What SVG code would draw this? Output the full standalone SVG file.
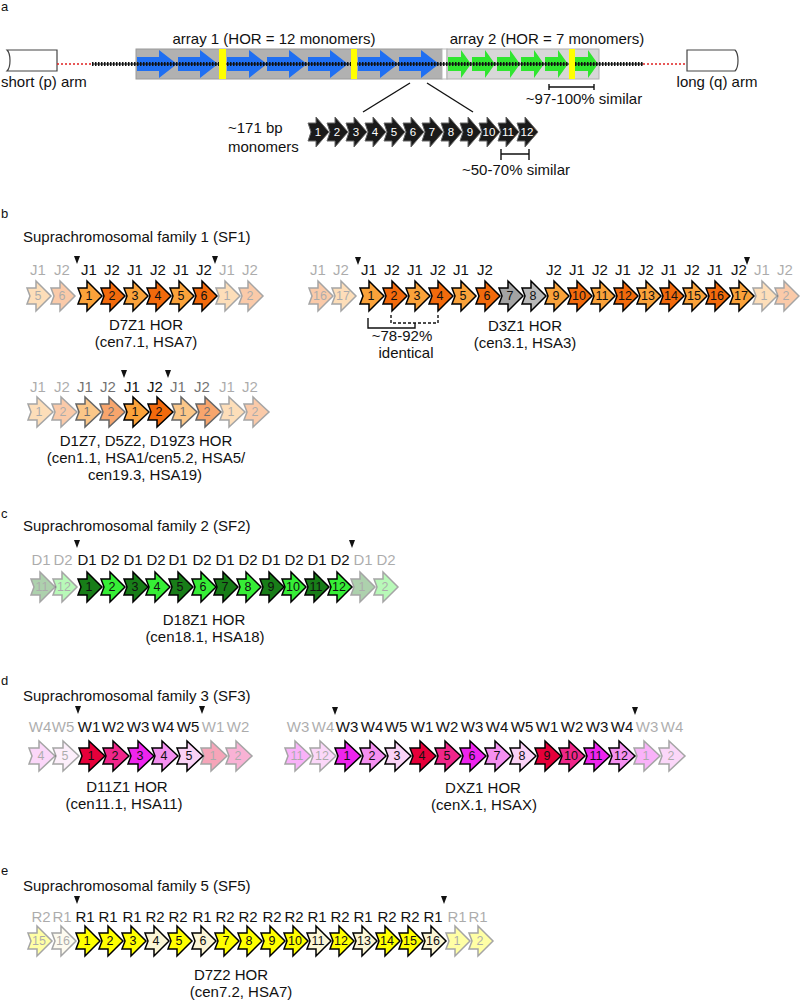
<svg xmlns="http://www.w3.org/2000/svg" width="800" height="1003" viewBox="0 0 800 1003">
<style>
text{font-family:"Liberation Sans",Arial,sans-serif;fill:#111}
.t{font-size:15px}
.c{font-size:15px;text-anchor:middle}
.pl{font-size:13px}
.l{font-size:15px;text-anchor:middle}
.n{font-size:12.5px;text-anchor:middle}
.w{font-size:11.5px;text-anchor:middle;fill:#fff}
.ar{stroke:#000;stroke-width:1.5;stroke-linejoin:miter}
.mk{fill:#1a1a1a;stroke:#666;stroke-width:1}
.gh{opacity:.35}
.gm{opacity:.6}
.o1{fill:#faa23a}.o2{fill:#f26a0c}.g7{fill:#a3a3a3}.g8{fill:#b8b8b8}
.dg{fill:#187d18}.lg{fill:#36ee36}
.r1{fill:#e6003a}.r2{fill:#f0268a}.r3{fill:#ee24ee}.r4{fill:#f48ff0}.r5{fill:#fad2f6}
.y{fill:#ffff00}.cr{fill:#fbf6d6}
.tri{fill:#111}
.arm{fill:#fff;stroke:#444;stroke-width:1.2}
.ln{stroke:#111;stroke-width:1.4;fill:none}
.yb{fill:#ffff00}
</style>
<defs>
<path id="a23" d="M0,-8H9V-15L24,0L9,15V8H0L3,0Z"/>
<path id="a24" d="M0,-8H9V-15L25,0L9,15V8H0L3,0Z"/>
<path id="a25" d="M0,-8H10V-15L26,0L10,15V8H0L3,0Z"/>
<path id="m19" d="M0,-9H8V-15L21,0L8,15V9H0L3,0Z"/>
<path id="ba" d="M0,-7H22V-14L40,0L22,14V7H0Z" fill="#1f6ff2"/>
<path id="ga" d="M0,-7H13V-14L23,0L13,14V7H0Z" fill="#2fe62f"/>
<path id="tri" d="M-3,0H3L0,8Z"/>
</defs>

<!-- panel letters and titles -->
<g id="labels">
<text class="pl" x="1" y="11">a</text>
<text class="pl" x="1" y="218">b</text>
<text class="pl" x="1" y="518">c</text>
<text class="pl" x="1" y="685">d</text>
<text class="pl" x="1" y="875">e</text>
<text class="t" x="23" y="242">Suprachromosomal family 1 (SF1)</text>
<text class="t" x="23" y="531">Suprachromosomal family 2 (SF2)</text>
<text class="t" x="23" y="701">Suprachromosomal family 3 (SF3)</text>
<text class="t" x="23" y="891">Suprachromosomal family 5 (SF5)</text>
</g>

<!-- panel a -->
<g id="p-arm">
<path class="arm" d="M57,50H7C11,54 11,67 7,71H57Z"/>
<text class="t" x="1" y="87">short (p) arm</text>
</g>
<g id="q-arm">
<path class="arm" d="M687,50H735C739,54 739,67 735,71H687Z"/>
<text class="c" x="717" y="87">long (q) arm</text>
</g>
<g id="array1">
<rect x="136" y="49" width="306" height="30" fill="#b1b1b1" stroke="#9a9a9a"/>
<use href="#ba" x="137" y="64"/><use href="#ba" x="178" y="64"/><use href="#ba" x="227" y="64"/>
<use href="#ba" x="267" y="64"/><use href="#ba" x="308" y="64"/><use href="#ba" x="358" y="64"/><use href="#ba" x="399" y="64"/>
<text class="c" x="274" y="44">array 1 (HOR = 12 monomers)</text>
</g>
<rect x="442" y="49" width="5" height="30" fill="#fff" stroke="#bbb"/>
<g id="array2">
<rect x="447" y="49" width="152" height="30" fill="#d7d7d7" stroke="#b0b0b0"/>
<use href="#ga" x="448" y="64"/><use href="#ga" x="472" y="64"/><use href="#ga" x="497" y="64"/>
<use href="#ga" x="521" y="64"/><use href="#ga" x="545" y="64"/><use href="#ga" x="575" y="64"/>
<text class="c" x="547" y="44">array 2 (HOR = 7 monomers)</text>
</g>
<g id="chromatin">
<line x1="57" y1="64" x2="92" y2="64" stroke="#e02020" stroke-width="1.5" stroke-dasharray="2 2"/>
<line x1="643" y1="64" x2="687" y2="64" stroke="#e02020" stroke-width="1.5" stroke-dasharray="2 2"/>
<line x1="92" y1="64" x2="643" y2="64" stroke="#111" stroke-width="1.2"/>
<line x1="92" y1="64" x2="643" y2="64" stroke="#111" stroke-width="4" stroke-dasharray="1.5 1.5"/>
</g>
<g id="hor-boundaries">
<rect class="yb" x="219" y="49" width="7" height="30"/>
<rect class="yb" x="351" y="49" width="6" height="30"/>
<rect class="yb" x="569" y="49" width="6" height="30"/>
</g>
<g id="monomers">
<text class="t" x="228" y="133">~171 bp</text>
<text class="t" x="228" y="152">monomers</text>
<use href="#m19" class="mk" x="308" y="132"/><text class="w" x="318" y="136">1</text>
<use href="#m19" class="mk" x="327" y="132"/><text class="w" x="337" y="136">2</text>
<use href="#m19" class="mk" x="346" y="132"/><text class="w" x="356" y="136">3</text>
<use href="#m19" class="mk" x="365" y="132"/><text class="w" x="375" y="136">4</text>
<use href="#m19" class="mk" x="384" y="132"/><text class="w" x="394" y="136">5</text>
<use href="#m19" class="mk" x="403" y="132"/><text class="w" x="413" y="136">6</text>
<use href="#m19" class="mk" x="422" y="132"/><text class="w" x="432" y="136">7</text>
<use href="#m19" class="mk" x="441" y="132"/><text class="w" x="451" y="136">8</text>
<use href="#m19" class="mk" x="460" y="132"/><text class="w" x="470" y="136">9</text>
<use href="#m19" class="mk" x="479" y="132"/><text class="w" x="489" y="136">10</text>
<use href="#m19" class="mk" x="498" y="132"/><text class="w" x="508" y="136">11</text>
<use href="#m19" class="mk" x="517" y="132"/><text class="w" x="527" y="136">12</text>
</g>

<g id="connectors">
<line class="ln" x1="410" y1="83" x2="363" y2="112"/>
<line class="ln" x1="427" y1="83" x2="473" y2="112"/>
<path class="ln" d="M549,84V90M549,87H594M594,84V90"/>
<path class="ln" d="M501,149V160M501,154H529M529,149V160"/>
<path class="ln" stroke-width="1.1" d="M368,318V328H415V323"/>
<path class="ln" stroke-width="1.1" stroke-dasharray="3 2" d="M391,315V323H438V315"/>
</g>
<g id="annotations">
<text class="c" x="584" y="104">~97-100% similar</text>
<text class="c" x="516" y="175">~50-70% similar</text>
<text class="c" x="402" y="341">~78-92%</text>
<text class="c" x="406" y="358">identical</text>
</g>

<!-- D7Z1 -->
<g id="d7z1">
<g class="gh"><use href="#a23" x="27" y="296" class="ar o1"/><text class="n" x="38" y="300">5</text><text class="l" x="38" y="275">J1</text></g>
<g class="gh"><use href="#a23" x="51" y="296" class="ar o2"/><text class="n" x="62" y="300">6</text><text class="l" x="62" y="275">J2</text></g>
<g><use href="#a23" x="78" y="296" class="ar o1"/><text class="n" x="89" y="300">1</text><text class="l" x="89" y="275">J1</text></g>
<g><use href="#a23" x="101" y="296" class="ar o2"/><text class="n" x="112" y="300">2</text><text class="l" x="112" y="275">J2</text></g>
<g><use href="#a23" x="124" y="296" class="ar o1"/><text class="n" x="135" y="300">3</text><text class="l" x="135" y="275">J1</text></g>
<g><use href="#a23" x="147" y="296" class="ar o2"/><text class="n" x="158" y="300">4</text><text class="l" x="158" y="275">J2</text></g>
<g><use href="#a23" x="170" y="296" class="ar o1"/><text class="n" x="181" y="300">5</text><text class="l" x="181" y="275">J1</text></g>
<g><use href="#a23" x="193" y="296" class="ar o2"/><text class="n" x="204" y="300">6</text><text class="l" x="204" y="275">J2</text></g>
<g class="gh"><use href="#a23" x="216" y="296" class="ar o1"/><text class="n" x="227" y="300">1</text><text class="l" x="227" y="275">J1</text></g>
<g class="gh"><use href="#a23" x="239" y="296" class="ar o2"/><text class="n" x="250" y="300">2</text><text class="l" x="250" y="275">J2</text></g>
<use href="#tri" class="tri" x="77" y="256"/><use href="#tri" class="tri" x="215" y="256"/>
<text class="c" x="146" y="330">D7Z1 HOR</text>
<text class="c" x="146" y="347">(cen7.1, HSA7)</text>
</g>

<!-- D3Z1 -->
<g id="d3z1">
<g class="gh"><use href="#a23" x="309" y="296" class="ar o2"/><text class="n" x="320" y="300">16</text><text class="l" x="318" y="275">J1</text></g>
<g class="gh"><use href="#a23" x="332" y="296" class="ar o1"/><text class="n" x="343" y="300">17</text><text class="l" x="341" y="275">J2</text></g>
<g><use href="#a23" x="360" y="296" class="ar o1"/><text class="n" x="371" y="300">1</text><text class="l" x="369" y="275">J1</text></g>
<g><use href="#a23" x="383" y="296" class="ar o2"/><text class="n" x="394" y="300">2</text><text class="l" x="392" y="275">J2</text></g>
<g><use href="#a23" x="406" y="296" class="ar o1"/><text class="n" x="417" y="300">3</text><text class="l" x="415" y="275">J1</text></g>
<g><use href="#a23" x="429" y="296" class="ar o2"/><text class="n" x="440" y="300">4</text><text class="l" x="438" y="275">J2</text></g>
<g><use href="#a23" x="452" y="296" class="ar o1"/><text class="n" x="463" y="300">5</text><text class="l" x="461" y="275">J1</text></g>
<g><use href="#a23" x="476" y="296" class="ar o2"/><text class="n" x="487" y="300">6</text><text class="l" x="485" y="275">J2</text></g>
<g><use href="#a23" x="499" y="296" class="ar g7"/><text class="n" x="510" y="300">7</text></g>
<g><use href="#a23" x="522" y="296" class="ar g8"/><text class="n" x="533" y="300">8</text></g>
<g><use href="#a23" x="545" y="296" class="ar o1"/><text class="n" x="556" y="300">9</text><text class="l" x="554" y="275">J2</text></g>
<g><use href="#a23" x="568" y="296" class="ar o2"/><text class="n" x="579" y="300">10</text><text class="l" x="577" y="275">J1</text></g>
<g><use href="#a23" x="591" y="296" class="ar o1"/><text class="n" x="602" y="300">11</text><text class="l" x="600" y="275">J2</text></g>
<g><use href="#a23" x="614" y="296" class="ar o2"/><text class="n" x="625" y="300">12</text><text class="l" x="623" y="275">J1</text></g>
<g><use href="#a23" x="637" y="296" class="ar o1"/><text class="n" x="648" y="300">13</text><text class="l" x="646" y="275">J2</text></g>
<g><use href="#a23" x="660" y="296" class="ar o2"/><text class="n" x="671" y="300">14</text><text class="l" x="669" y="275">J1</text></g>
<g><use href="#a23" x="683" y="296" class="ar o1"/><text class="n" x="694" y="300">15</text><text class="l" x="692" y="275">J2</text></g>
<g><use href="#a23" x="706" y="296" class="ar o2"/><text class="n" x="717" y="300">16</text><text class="l" x="715" y="275">J1</text></g>
<g><use href="#a23" x="730" y="296" class="ar o1"/><text class="n" x="741" y="300">17</text><text class="l" x="739" y="275">J2</text></g>
<g class="gh"><use href="#a23" x="753" y="296" class="ar o1"/><text class="n" x="764" y="300">1</text><text class="l" x="762" y="275">J1</text></g>
<g class="gh"><use href="#a23" x="775" y="296" class="ar o2"/><text class="n" x="786" y="300">2</text><text class="l" x="785" y="275">J2</text></g>
<use href="#tri" class="tri" x="358" y="257"/><use href="#tri" class="tri" x="747" y="257"/>
<text class="c" x="525" y="331">D3Z1 HOR</text>
<text class="c" x="525" y="348">(cen3.1, HSA3)</text>
</g>

<!-- D1Z7 -->
<g id="d1z7">
<g class="gh"><use href="#a24" x="28" y="412" class="ar o1"/><text class="n" x="39" y="416">1</text><text class="l" x="38" y="392">J1</text></g>
<g class="gh"><use href="#a24" x="52" y="412" class="ar o2"/><text class="n" x="63" y="416">2</text><text class="l" x="62" y="392">J2</text></g>
<g class="gm"><use href="#a24" x="76" y="412" class="ar o1"/><text class="n" x="87" y="416">1</text><text class="l" x="85" y="392">J1</text></g>
<g class="gm"><use href="#a24" x="100" y="412" class="ar o2"/><text class="n" x="111" y="416">2</text><text class="l" x="108" y="392">J2</text></g>
<g><use href="#a24" x="124" y="412" class="ar o1"/><text class="n" x="135" y="416">1</text><text class="l" x="132" y="392">J1</text></g>
<g><use href="#a24" x="148" y="412" class="ar o2"/><text class="n" x="159" y="416">2</text><text class="l" x="155" y="392">J2</text></g>
<g class="gm"><use href="#a24" x="172" y="412" class="ar o1"/><text class="n" x="183" y="416">1</text><text class="l" x="178" y="392">J1</text></g>
<g class="gm"><use href="#a24" x="196" y="412" class="ar o2"/><text class="n" x="207" y="416">2</text><text class="l" x="202" y="392">J2</text></g>
<g class="gh"><use href="#a24" x="220" y="412" class="ar o1"/><text class="n" x="231" y="416">1</text><text class="l" x="227" y="392">J1</text></g>
<g class="gh"><use href="#a24" x="244" y="412" class="ar o2"/><text class="n" x="255" y="416">2</text><text class="l" x="250" y="392">J2</text></g>
<use href="#tri" class="tri" x="124" y="370"/><use href="#tri" class="tri" x="168" y="370"/>
<text class="c" x="146" y="446">D1Z7, D5Z2, D19Z3 HOR</text>
<text class="c" x="146" y="463">(cen1.1, HSA1/cen5.2, HSA5/</text>
<text class="c" x="145" y="480">cen19.3, HSA19)</text>
</g>

<!-- D18Z1 -->
<g id="d18z1">
<g class="gh"><use href="#a23" x="31" y="587" class="ar dg"/><text class="n" x="42" y="591">11</text><text class="l" x="41" y="565">D1</text></g>
<g class="gh"><use href="#a23" x="53" y="587" class="ar lg"/><text class="n" x="64" y="591">12</text><text class="l" x="63" y="565">D2</text></g>
<g><use href="#a23" x="78" y="587" class="ar dg"/><text class="n" x="89" y="591">1</text><text class="l" x="87" y="565">D1</text></g>
<g><use href="#a23" x="101" y="587" class="ar lg"/><text class="n" x="112" y="591">2</text><text class="l" x="110" y="565">D2</text></g>
<g><use href="#a23" x="124" y="587" class="ar dg"/><text class="n" x="135" y="591">3</text><text class="l" x="133" y="565">D1</text></g>
<g><use href="#a23" x="146" y="587" class="ar lg"/><text class="n" x="157" y="591">4</text><text class="l" x="156" y="565">D2</text></g>
<g><use href="#a23" x="169" y="587" class="ar dg"/><text class="n" x="180" y="591">5</text><text class="l" x="178" y="565">D1</text></g>
<g><use href="#a23" x="192" y="587" class="ar lg"/><text class="n" x="203" y="591">6</text><text class="l" x="202" y="565">D2</text></g>
<g><use href="#a23" x="214" y="587" class="ar dg"/><text class="n" x="225" y="591">7</text><text class="l" x="225" y="565">D1</text></g>
<g><use href="#a23" x="237" y="587" class="ar lg"/><text class="n" x="248" y="591">8</text><text class="l" x="248" y="565">D2</text></g>
<g><use href="#a23" x="260" y="587" class="ar dg"/><text class="n" x="271" y="591">9</text><text class="l" x="271" y="565">D1</text></g>
<g><use href="#a23" x="282" y="587" class="ar lg"/><text class="n" x="293" y="591">10</text><text class="l" x="294" y="565">D2</text></g>
<g><use href="#a23" x="305" y="587" class="ar dg"/><text class="n" x="316" y="591">11</text><text class="l" x="317" y="565">D1</text></g>
<g><use href="#a23" x="328" y="587" class="ar lg"/><text class="n" x="339" y="591">12</text><text class="l" x="340" y="565">D2</text></g>
<g class="gh"><use href="#a23" x="351" y="587" class="ar dg"/><text class="n" x="362" y="591">1</text><text class="l" x="363" y="565">D1</text></g>
<g class="gh"><use href="#a23" x="374" y="587" class="ar lg"/><text class="n" x="385" y="591">2</text><text class="l" x="386" y="565">D2</text></g>
<use href="#tri" class="tri" x="77" y="540"/><use href="#tri" class="tri" x="352" y="540"/>
<text class="c" x="204" y="625">D18Z1 HOR</text>
<text class="c" x="205" y="642">(cen18.1, HSA18)</text>
</g>

<!-- D11Z1 -->
<g id="d11z1">
<g class="gh"><use href="#a25" x="29" y="756" class="ar r4"/><text class="n" x="41" y="760">4</text><text class="l" x="40" y="732">W4</text></g>
<g class="gh"><use href="#a25" x="53" y="756" class="ar r5"/><text class="n" x="65" y="760">5</text><text class="l" x="63" y="732">W5</text></g>
<g><use href="#a25" x="79" y="756" class="ar r1"/><text class="n" x="91" y="760">1</text><text class="l" x="89" y="732">W1</text></g>
<g><use href="#a25" x="103" y="756" class="ar r2"/><text class="n" x="115" y="760">2</text><text class="l" x="113" y="732">W2</text></g>
<g><use href="#a25" x="128" y="756" class="ar r3"/><text class="n" x="140" y="760">3</text><text class="l" x="138" y="732">W3</text></g>
<g><use href="#a25" x="152" y="756" class="ar r4"/><text class="n" x="164" y="760">4</text><text class="l" x="163" y="732">W4</text></g>
<g><use href="#a25" x="177" y="756" class="ar r5"/><text class="n" x="189" y="760">5</text><text class="l" x="188" y="732">W5</text></g>
<g class="gh"><use href="#a25" x="201" y="756" class="ar r1"/><text class="n" x="213" y="760">1</text><text class="l" x="213" y="732">W1</text></g>
<g class="gh"><use href="#a25" x="226" y="756" class="ar r2"/><text class="n" x="238" y="760">2</text><text class="l" x="238" y="732">W2</text></g>
<use href="#tri" class="tri" x="78" y="706"/><use href="#tri" class="tri" x="202" y="706"/>
<text class="c" x="127" y="792">D11Z1 HOR</text>
<text class="c" x="124" y="809">(cen11.1, HSA11)</text>
</g>

<!-- DXZ1 -->
<g id="dxz1">
<g class="gh"><use href="#a25" x="285" y="756" class="ar r3"/><text class="n" x="297" y="760">11</text><text class="l" x="298" y="732">W3</text></g>
<g class="gh"><use href="#a25" x="310" y="756" class="ar r4"/><text class="n" x="322" y="760">12</text><text class="l" x="323" y="732">W4</text></g>
<g><use href="#a25" x="335" y="756" class="ar r3"/><text class="n" x="347" y="760">1</text><text class="l" x="347" y="732">W3</text></g>
<g><use href="#a25" x="360" y="756" class="ar r4"/><text class="n" x="372" y="760">2</text><text class="l" x="372" y="732">W4</text></g>
<g><use href="#a25" x="385" y="756" class="ar r5"/><text class="n" x="397" y="760">3</text><text class="l" x="396" y="732">W5</text></g>
<g><use href="#a25" x="410" y="756" class="ar r1"/><text class="n" x="422" y="760">4</text><text class="l" x="422" y="732">W1</text></g>
<g><use href="#a25" x="435" y="756" class="ar r2"/><text class="n" x="447" y="760">5</text><text class="l" x="447" y="732">W2</text></g>
<g><use href="#a25" x="460" y="756" class="ar r3"/><text class="n" x="472" y="760">6</text><text class="l" x="472" y="732">W3</text></g>
<g><use href="#a25" x="485" y="756" class="ar r4"/><text class="n" x="497" y="760">7</text><text class="l" x="497" y="732">W4</text></g>
<g><use href="#a25" x="510" y="756" class="ar r5"/><text class="n" x="522" y="760">8</text><text class="l" x="522" y="732">W5</text></g>
<g><use href="#a25" x="535" y="756" class="ar r1"/><text class="n" x="547" y="760">9</text><text class="l" x="547" y="732">W1</text></g>
<g><use href="#a25" x="559" y="756" class="ar r2"/><text class="n" x="571" y="760">10</text><text class="l" x="572" y="732">W2</text></g>
<g><use href="#a25" x="584" y="756" class="ar r3"/><text class="n" x="596" y="760">11</text><text class="l" x="597" y="732">W3</text></g>
<g><use href="#a25" x="609" y="756" class="ar r4"/><text class="n" x="621" y="760">12</text><text class="l" x="622" y="732">W4</text></g>
<g class="gh"><use href="#a25" x="634" y="756" class="ar r3"/><text class="n" x="646" y="760">1</text><text class="l" x="647" y="732">W3</text></g>
<g class="gh"><use href="#a25" x="659" y="756" class="ar r4"/><text class="n" x="671" y="760">2</text><text class="l" x="672" y="732">W4</text></g>
<use href="#tri" class="tri" x="335" y="707"/><use href="#tri" class="tri" x="635" y="707"/>
<text class="c" x="483" y="793">DXZ1 HOR</text>
<text class="c" x="484" y="810">(cenX.1, HSAX)</text>
</g>

<!-- D7Z2 -->
<g id="d7z2">
<g class="gh"><use href="#a23" x="28" y="941" class="ar y"/><text class="n" x="39" y="945">15</text><text class="l" x="41" y="922">R2</text></g>
<g class="gh"><use href="#a23" x="52" y="941" class="ar cr"/><text class="n" x="63" y="945">16</text><text class="l" x="62" y="922">R1</text></g>
<g><use href="#a23" x="76" y="941" class="ar y"/><text class="n" x="87" y="945">1</text><text class="l" x="85" y="922">R1</text></g>
<g><use href="#a23" x="99" y="941" class="ar y"/><text class="n" x="110" y="945">2</text><text class="l" x="108" y="922">R1</text></g>
<g><use href="#a23" x="122" y="941" class="ar y"/><text class="n" x="133" y="945">3</text><text class="l" x="132" y="922">R1</text></g>
<g><use href="#a23" x="145" y="941" class="ar cr"/><text class="n" x="156" y="945">4</text><text class="l" x="155" y="922">R2</text></g>
<g><use href="#a23" x="168" y="941" class="ar y"/><text class="n" x="179" y="945">5</text><text class="l" x="178" y="922">R2</text></g>
<g><use href="#a23" x="192" y="941" class="ar cr"/><text class="n" x="203" y="945">6</text><text class="l" x="202" y="922">R1</text></g>
<g><use href="#a23" x="215" y="941" class="ar y"/><text class="n" x="226" y="945">7</text><text class="l" x="225" y="922">R2</text></g>
<g><use href="#a23" x="238" y="941" class="ar y"/><text class="n" x="249" y="945">8</text><text class="l" x="248" y="922">R2</text></g>
<g><use href="#a23" x="261" y="941" class="ar y"/><text class="n" x="272" y="945">9</text><text class="l" x="272" y="922">R2</text></g>
<g><use href="#a23" x="284" y="941" class="ar y"/><text class="n" x="295" y="945">10</text><text class="l" x="294" y="922">R2</text></g>
<g><use href="#a23" x="307" y="941" class="ar cr"/><text class="n" x="318" y="945">11</text><text class="l" x="317" y="922">R1</text></g>
<g><use href="#a23" x="330" y="941" class="ar y"/><text class="n" x="341" y="945">12</text><text class="l" x="340" y="922">R2</text></g>
<g><use href="#a23" x="353" y="941" class="ar cr"/><text class="n" x="364" y="945">13</text><text class="l" x="363" y="922">R1</text></g>
<g><use href="#a23" x="376" y="941" class="ar y"/><text class="n" x="387" y="945">14</text><text class="l" x="387" y="922">R2</text></g>
<g><use href="#a23" x="399" y="941" class="ar y"/><text class="n" x="410" y="945">15</text><text class="l" x="410" y="922">R2</text></g>
<g><use href="#a23" x="422" y="941" class="ar cr"/><text class="n" x="433" y="945">16</text><text class="l" x="433" y="922">R1</text></g>
<g class="gh"><use href="#a23" x="446" y="941" class="ar y"/><text class="n" x="457" y="945">1</text><text class="l" x="457" y="922">R1</text></g>
<g class="gh"><use href="#a23" x="469" y="941" class="ar y"/><text class="n" x="480" y="945">2</text><text class="l" x="478" y="922">R1</text></g>
<use href="#tri" class="tri" x="77" y="896"/><use href="#tri" class="tri" x="444" y="896"/>
<text class="c" x="231" y="980">D7Z2 HOR</text>
<text class="c" x="241" y="997">(cen7.2, HSA7)</text>
</g>
</svg>
